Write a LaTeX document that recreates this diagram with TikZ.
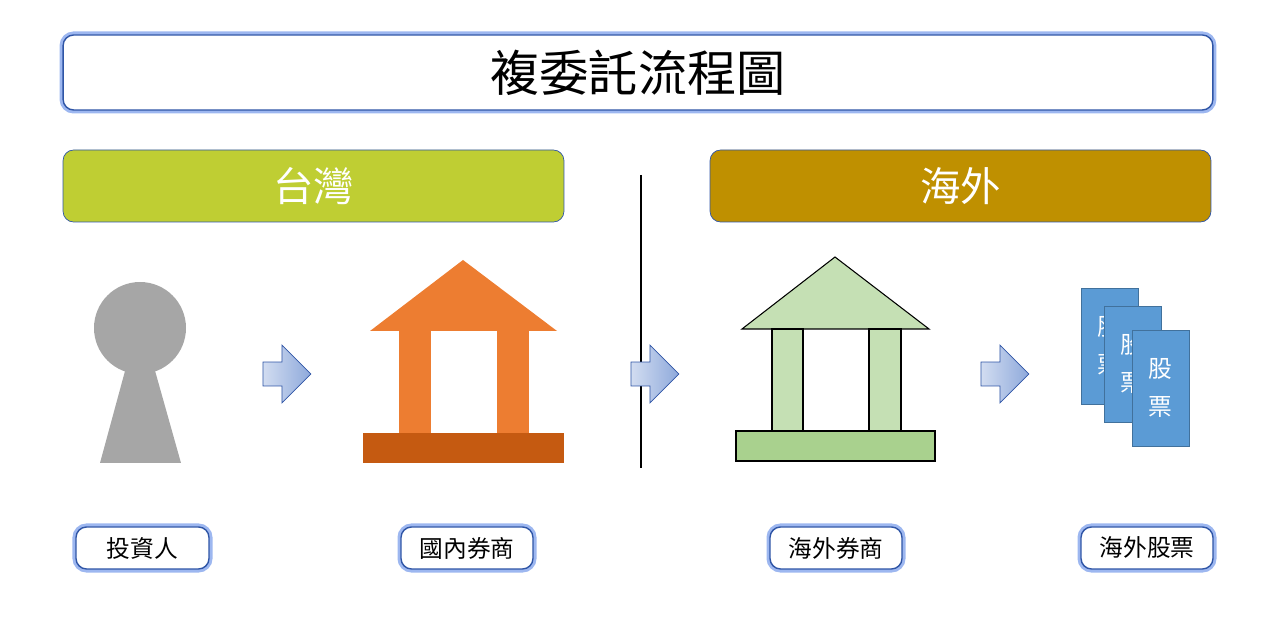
\documentclass[tikz,border=0pt]{standalone}
\usepackage{fontspec}
\setmainfont{Noto Sans CJK TC}
\usetikzlibrary{positioning,shapes.arrows,shapes.geometric}
\definecolor{glowblue}{HTML}{9DB7F0}
\definecolor{edgeblue}{HTML}{2F55A6}
\definecolor{twgreen}{HTML}{BFCE33}
\definecolor{osgold}{HTML}{BF9000}
\definecolor{roofor}{HTML}{ED7D31}
\definecolor{baseor}{HTML}{C55A11}
\definecolor{roofgr}{HTML}{C5E0B4}
\definecolor{basegr}{HTML}{A9D18E}
\definecolor{stockbl}{HTML}{5B9BD5}
\definecolor{stockedge}{HTML}{41719C}
\definecolor{arrowbl}{HTML}{8EA9DB}
\tikzset{
  glowbox/.style={draw=edgeblue,line width=0.8pt,rounded corners=6pt,fill=white,
    preaction={draw=glowblue,line width=4pt,rounded corners=6pt}},
  tag/.style={glowbox,minimum height=0.84cm,font=\fontsize{13.5}{15}\selectfont,inner sep=0pt},
  region/.style={draw=edgeblue,rounded corners=6pt,minimum width=10.02cm,minimum height=1.44cm,
    text=white,font=\fontsize{23}{26}\selectfont},
  flow/.style={single arrow,draw=edgeblue,line width=0.4pt,left color=white!60!arrowbl,right color=arrowbl,
    minimum width=1.16cm,single arrow head extend=0.01cm,minimum height=0.96cm,inner sep=0pt,
    single arrow tip angle=90},
  stock/.style={draw=stockedge,fill=stockbl,minimum width=1.14cm,minimum height=2.32cm,text=white,
    align=center,font=\fontsize{13.5}{22}\selectfont,inner sep=0pt}
}
\begin{document}
\begin{tikzpicture}[x=0.02cm,y=-0.02cm]
\useasboundingbox (0,0) rectangle (1262,617);
% title and regions
\node[glowbox,minimum width=23cm,minimum height=1.5cm,font=\fontsize{28}{32}\selectfont] (title) at (638,72.5) {複委託流程圖};
\node[region,fill=twgreen] (tw) at (313.5,186) {台灣};
\node[region,fill=osgold] (os) at (960.5,186) {海外};
\coordinate (divtop) at (641,175);
\coordinate (divbot) at (641,468);
\draw[line width=0.6pt] (divtop) -- (divbot);
% investor
\fill[gray!70] (128,360) -- (152,360) -- (181,463) -- (100,463) -- cycle;
\fill[gray!70] (140,328) circle (46);
% domestic broker
\fill[roofor] (370,331) -- (463,260) -- (557,331) -- cycle;
\fill[roofor] (399,331) rectangle (431,433);
\fill[roofor] (497,331) rectangle (529,433);
\fill[baseor] (363,433) rectangle (564,463);
% overseas broker
\filldraw[fill=roofgr,draw=black,line width=0.6pt] (742,329) -- (835,257) -- (929,329) -- cycle;
\filldraw[fill=roofgr,draw=black,line width=0.6pt] (772,329) rectangle (803,431);
\filldraw[fill=roofgr,draw=black,line width=0.6pt] (869,329) rectangle (901,431);
\filldraw[fill=basegr,draw=black,line width=0.6pt] (736,431) rectangle (935,461);
% stocks
\node[stock] (s1) at (1109.5,346) {股\\票};
\node[stock] (s2) at (1132.5,364) {股\\票};
\node[stock] (s3) at (1160.5,388) {股\\票};
% arrows
\node[flow] (a1) at (281,374) {};
\node[flow] (a2) at (649,374) {};
\node[flow] (a3) at (999,374) {};
% labels
\node[tag,minimum width=2.66cm] (inv) at (142.5,548) {投資人};
\node[tag,minimum width=2.64cm] (dom) at (467,548) {國內券商};
\node[tag,minimum width=2.64cm] (ovb) at (836,548) {海外券商};
\node[tag,minimum width=2.64cm] (ovs) at (1147,548) {海外股票};
\end{tikzpicture}
\end{document}
